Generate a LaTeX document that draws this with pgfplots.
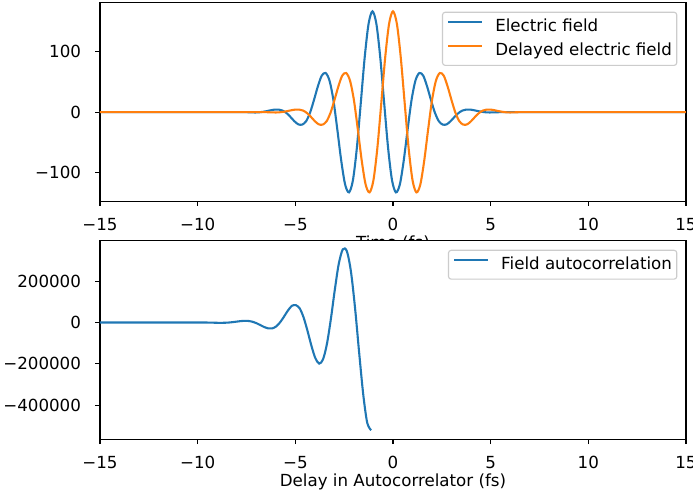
\documentclass[border=0pt]{standalone}
\usepackage{fontspec}
\setmainfont{DejaVu Sans}
\usepackage{pgfplots}
\pgfplotsset{compat=1.18}

\definecolor{mplblue}{HTML}{1F77B4}
\definecolor{mplorange}{HTML}{FF7F0E}

\pgfplotsset{
  mplstyle/.style={
    scale only axis,
    width=421.9pt, height=142.9pt,
    xmin=-15, xmax=15,
    axis line style={line width=0.8pt},
    every tick/.style={black, line width=0.8pt},
    tick align=outside,
    major tick length=3.5pt,
    xtick pos=bottom, ytick pos=left,
    xtick={-15,-10,-5,0,5,10,15},
    xticklabels={−15,−10,−5,0,5,10,15},
    tick label style={font=\fontsize{12}{14.4}\selectfont},
    xticklabel style={anchor=base, yshift=-17.8pt},
    yticklabel style={anchor=east, inner xsep=0pt, xshift=-10pt},
    label style={font=\fontsize{12}{14.4}\selectfont},
    xlabel style={at={(axis description cs:0.5,0)}, anchor=base, yshift=-34.2pt},
    legend cell align=left,
    legend image code/.code={\draw[#1, line width=1.5pt] (0pt,3.5pt) -- (24pt,3.5pt);},
    legend style={at={(1,1)}, anchor=north east, xshift=-6.2pt, yshift=-6.5pt,
      draw=black!20, line width=0.8pt, rounded corners=2pt,
      fill=white, fill opacity=0.8, text opacity=1,
      font=\fontsize{12}{14.4}\selectfont,
      inner xsep=3.5pt, inner ysep=3.6pt, row sep=3.9pt, column sep=9pt,
      nodes={inner xsep=0pt, inner ysep=1pt, text height=9pt, text depth=2.6pt}},
    axis background/.style={fill=white},
  },
}

\begin{document}
\begin{tikzpicture}
\useasboundingbox (0pt,0pt) rectangle (498.96pt,-353.52pt);

% Electric field and its delayed copy
\begin{axis}[mplstyle,
  at={(72pt,-1.9pt)}, anchor=north west,
  ymin=-146.4, ymax=180.3,
  ytick={-100,0,100},
  yticklabels={−100,0,100},
  xlabel={Time (fs)},
]
\addplot[mplblue, line width=1.5pt, smooth] coordinates {
(-15,0) (-10,0) (-8,0) (-7.5,0)
(-7.05,-0.5) (-6.85,-0.2) (-6.65,0.6) (-6.45,1.8) (-6.25,3.2) (-6.05,4.3)
(-5.85,4.3) (-5.65,2.6) (-5.45,-1.5) (-5.25,-7.8) (-5.05,-14.8) (-4.85,-20.0)
(-4.65,-20.5) (-4.45,-15.0) (-4.25,-1.2) (-4.05,19.5) (-3.85,42.0) (-3.65,60.0)
(-3.45,64.5) (-3.25,52.0) (-3.05,19.9) (-2.85,-28.4) (-2.65,-79.7) (-2.45,-119.1)
(-2.25,-132.0) (-2.05,-111.9) (-1.85,-59.0) (-1.65,14.5) (-1.45,89.6) (-1.25,145.4)
(-1.05,166.0)
(-0.85,145.4) (-0.65,89.6) (-0.45,14.5) (-0.25,-59.0) (-0.05,-111.9) (0.15,-132.0)
(0.35,-119.1) (0.55,-79.7) (0.75,-28.4) (0.95,19.9) (1.15,52.0) (1.35,64.5)
(1.55,60.0) (1.75,42.0) (1.95,19.5) (2.15,-1.2) (2.35,-15.0) (2.55,-20.5)
(2.75,-20.0) (2.95,-14.8) (3.15,-7.8) (3.35,-1.5) (3.55,2.6) (3.75,4.3)
(3.95,4.3) (4.15,3.2) (4.35,1.8) (4.55,0.6) (4.75,-0.2) (4.95,-0.5)
(5.5,0) (7,0) (10,0) (15,0)
};
\addlegendentry{Electric field}
\addplot[mplorange, line width=1.5pt, smooth] coordinates {
(-15,0) (-10,0) (-7,0) (-6.5,0)
(-6.0,-0.5) (-5.8,-0.2) (-5.6,0.6) (-5.4,1.8) (-5.2,3.2) (-5.0,4.3)
(-4.8,4.3) (-4.6,2.6) (-4.4,-1.5) (-4.2,-7.8) (-4.0,-14.8) (-3.8,-20.0)
(-3.6,-20.5) (-3.4,-15.0) (-3.2,-1.2) (-3.0,19.5) (-2.8,42.0) (-2.6,60.0)
(-2.4,64.5) (-2.2,52.0) (-2.0,19.9) (-1.8,-28.4) (-1.6,-79.7) (-1.4,-119.1)
(-1.2,-132.0) (-1.0,-111.9) (-0.8,-59.0) (-0.6,14.5) (-0.4,89.6) (-0.2,145.4)
(0,166.0)
(0.2,145.4) (0.4,89.6) (0.6,14.5) (0.8,-59.0) (1.0,-111.9) (1.2,-132.0)
(1.4,-119.1) (1.6,-79.7) (1.8,-28.4) (2.0,19.9) (2.2,52.0) (2.4,64.5)
(2.6,60.0) (2.8,42.0) (3.0,19.5) (3.2,-1.2) (3.4,-15.0) (3.6,-20.5)
(3.8,-20.0) (4.0,-14.8) (4.2,-7.8) (4.4,-1.5) (4.6,2.6) (4.8,4.3)
(5.0,4.3) (5.2,3.2) (5.4,1.8) (5.6,0.6) (5.8,-0.2) (6.0,-0.5)
(6.5,0) (8,0) (10,0) (15,0)
};
\addlegendentry{Delayed electric field}
\end{axis}

% Field autocorrelation versus delay
\begin{axis}[mplstyle,
  at={(72pt,-173.3pt)}, anchor=north west,
  ymin=-564500, ymax=395600,
  ytick={-400000,-200000,0,200000},
  yticklabels={−400000,−200000,0,200000},
  scaled y ticks=false,
  xlabel={Delay in Autocorrelator (fs)},
]
\addplot[mplblue, line width=1.5pt, smooth] coordinates {
(-15,0) (-12,0) (-10.18,0)
(-9.78,0) (-9.58,-130) (-9.38,-600) (-9.18,-1100) (-8.98,-1570) (-8.78,-1700)
(-8.58,-1300) (-8.38,-100) (-8.18,1900) (-7.98,4400) (-7.78,6800) (-7.58,8100)
(-7.38,7200) (-7.18,3300) (-6.98,-3800) (-6.78,-13100) (-6.58,-22600) (-6.38,-28900)
(-6.18,-28700) (-5.98,-19100) (-5.78,700) (-5.58,28200) (-5.38,57600) (-5.18,80200)
(-4.98,84000) (-4.78,68900) (-4.58,25300) (-4.38,-39200) (-4.18,-111200) (-3.98,-171500)
(-3.78,-199100) (-3.58,-178100) (-3.38,-102800) (-3.18,17000) (-2.98,156900) (-2.78,281600)
(-2.57,353700) (-2.36,344700) (-2.15,244800) (-1.94,68000) (-1.73,-148100) (-1.52,-350600)
(-1.32,-484800) (-1.12,-521000)
};
\addlegendentry{Field autocorrelation}
\end{axis}
\end{tikzpicture}
\end{document}
